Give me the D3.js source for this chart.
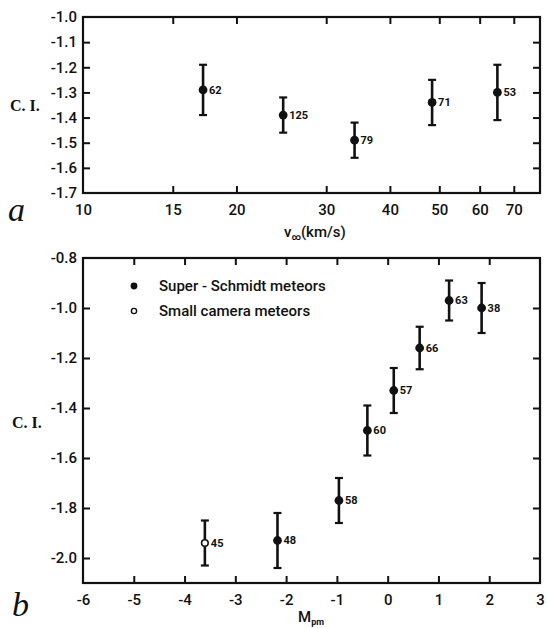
<!DOCTYPE html>
<html>
<head>
<meta charset="utf-8">
<script src="https://cdn.jsdelivr.net/npm/d3@7"></script>
<style>
  html, body { margin: 0; padding: 0; background: #fff; }
  svg { display: block; }
  text { font-family: Roboto, "DejaVu Sans", sans-serif; font-weight: 500; fill: #111; }
</style>
</head>
<body>
<script>
// Panel a: colour index versus velocity (log axis)
const velocity      = [17.2, 24.7, 34.1, 48.4, 65.0];
const ciVelocity    = [-1.29, -1.39, -1.49, -1.34, -1.30];
const errVelocity   = [0.10, 0.07, 0.07, 0.09, 0.11];
const nVelocity     = [62, 125, 79, 71, 53];
const velocityTicks = [10, 15, 20, 30, 40, 50, 60, 70];
const ciTicksA      = [-1.0, -1.1, -1.2, -1.3, -1.4, -1.5, -1.6, -1.7];

// Panel b: colour index versus photographic magnitude
const magnitude      = [-3.6, -2.17, -0.96, -0.40, 0.12, 0.63, 1.21, 1.85];
const ciMagnitude    = [-1.94, -1.93, -1.77, -1.49, -1.33, -1.16, -0.97, -1.00];
const errMagnitude   = [0.09, 0.11, 0.09, 0.10, 0.09, 0.085, 0.08, 0.10];
const nMagnitude     = [45, 48, 58, 60, 57, 66, 63, 38];
const camera         = ["small", "super", "super", "super", "super", "super", "super", "super"];
const magnitudeTicks = [-6, -5, -4, -3, -2, -1, 0, 1, 2, 3];
const ciTicksB       = [-0.8, -1.0, -1.2, -1.4, -1.6, -1.8, -2.0];
const legendItems    = [
  { key: "super", label: "Super - Schmidt meteors" },
  { key: "small", label: "Small camera meteors" }
];

const W = 548, H = 628;
const svg = d3.select("body").append("svg").attr("width", W).attr("height", H);

const TICK = 7;
const FONT = 15;
const fmt1 = d => d.toFixed(1);

function drawPanel(cfg) {
  const { x, y, xTicks, yTicks, xFmt, yFmt } = cfg;
  const [x0, x1] = x.range();
  const [yb, yt] = y.range();
  const g = svg.append("g");

  // bottom axis with labels, inward ticks
  const bottom = g.append("g").attr("transform", `translate(0,${yb})`)
    .call(d3.axisBottom(x).tickValues(xTicks).tickFormat(xFmt)
      .tickSizeInner(-TICK).tickSizeOuter(0).tickPadding(11));
  // top axis, ticks only
  const top = g.append("g").attr("transform", `translate(0,${yt})`)
    .call(d3.axisTop(x).tickValues(xTicks).tickFormat("")
      .tickSizeInner(-TICK).tickSizeOuter(0));
  // left axis with labels
  const left = g.append("g").attr("transform", `translate(${x0},0)`)
    .call(d3.axisLeft(y).tickValues(yTicks).tickFormat(yFmt)
      .tickSizeInner(-TICK).tickSizeOuter(0).tickPadding(6));
  // right axis, ticks only
  const right = g.append("g").attr("transform", `translate(${x1},0)`)
    .call(d3.axisRight(y).tickValues(yTicks).tickFormat("")
      .tickSizeInner(-TICK).tickSizeOuter(0));

  [bottom, top, left, right].forEach(a => {
    a.select(".domain").remove();
    a.selectAll("line").attr("stroke", "#111").attr("stroke-width", 2);
    a.selectAll("text").attr("font-size", FONT).attr("fill", "#111")
      .style("font-family", "Roboto, DejaVu Sans, sans-serif").style("font-weight", 500);
  });
  bottom.selectAll("text").attr("dy", "0.71em");

  // frame
  g.append("rect")
    .attr("x", x0).attr("y", yt).attr("width", x1 - x0).attr("height", yb - yt)
    .attr("fill", "none").attr("stroke", "#111").attr("stroke-width", 2.2);
  return g;
}

function drawPoints(g, x, y, xs, ys, errs, counts, kinds) {
  const data = xs.map((v, i) => ({ x: v, y: ys[i], e: errs[i], n: counts[i], k: kinds ? kinds[i] : "super" }));
  const pts = g.append("g").selectAll("g").data(data).join("g");
  const cap = 4;
  pts.append("line")
    .attr("x1", d => x(d.x)).attr("x2", d => x(d.x))
    .attr("y1", d => y(d.y + d.e)).attr("y2", d => y(d.y - d.e))
    .attr("stroke", "#111").attr("stroke-width", 2.6);
  pts.append("line")
    .attr("x1", d => x(d.x) - cap).attr("x2", d => x(d.x) + cap)
    .attr("y1", d => y(d.y + d.e)).attr("y2", d => y(d.y + d.e))
    .attr("stroke", "#111").attr("stroke-width", 2.2);
  pts.append("line")
    .attr("x1", d => x(d.x) - cap).attr("x2", d => x(d.x) + cap)
    .attr("y1", d => y(d.y - d.e)).attr("y2", d => y(d.y - d.e))
    .attr("stroke", "#111").attr("stroke-width", 2.2);
  pts.append("circle")
    .attr("cx", d => x(d.x)).attr("cy", d => y(d.y))
    .attr("r", d => d.k === "small" ? 3.3 : 4.4)
    .attr("fill", d => d.k === "small" ? "#fff" : "#111")
    .attr("stroke", "#111").attr("stroke-width", d => d.k === "small" ? 1.6 : 0);
  pts.append("text")
    .attr("x", d => x(d.x) + 6).attr("y", d => y(d.y))
    .attr("dy", "0.36em")
    .attr("font-size", 11).style("font-weight", "bold")
    .text(d => d.n);
}

// ---------- Panel a ----------
const xA = d3.scaleLog().domain([10, 78.8]).range([83, 540]);
const yA = d3.scaleLinear().domain([-1.7, -1.0]).range([193, 17]);
const gA = drawPanel({ x: xA, y: yA, xTicks: velocityTicks, yTicks: ciTicksA,
  xFmt: d => String(d), yFmt: fmt1 });
// tick marks that would sit on the frame corners are dropped
gA.selectAll(".tick").filter(d => d === 10 || d === -1.0 || d === -1.7).select("line").remove();
drawPoints(gA, xA, yA, velocity, ciVelocity, errVelocity, nVelocity, null);

gA.append("text").attr("x", 10).attr("y", 111).attr("font-size", 16)
  .style("font-family", "Liberation Serif, serif").style("font-weight", "bold").text("C. I.");
const vLabel = gA.append("text").attr("x", 284).attr("y", 237).attr("font-size", FONT);
vLabel.append("tspan").text("v");
vLabel.append("tspan").attr("font-size", 9).style("font-weight", "bold").attr("dy", 3).text("∞");
vLabel.append("tspan").attr("dy", -3).text("(km/s)");
gA.append("text").attr("x", 8).attr("y", 221)
  .style("font-family", "Liberation Serif, serif").attr("font-style", "italic")
  .style("font-weight", "normal").attr("font-size", 34).text("a");

// ---------- Panel b ----------
const xB = d3.scaleLinear().domain([-6, 3]).range([83, 540]);
const yB = d3.scaleLinear().domain([-2.1, -0.8]).range([583, 258]);
const gB = drawPanel({ x: xB, y: yB, xTicks: magnitudeTicks, yTicks: ciTicksB,
  xFmt: d => String(d), yFmt: fmt1 });
gB.selectAll(".tick").filter(d => d === -6 || d === 3 || d === -0.8).select("line").remove();
drawPoints(gB, xB, yB, magnitude, ciMagnitude, errMagnitude, nMagnitude, camera);

// legend
const leg = gB.append("g").selectAll("g").data(legendItems).join("g")
  .attr("transform", (d, i) => `translate(134,${286 + i * 25})`);
leg.append("circle").attr("r", d => d.key === "small" ? 2.6 : 3.4)
  .attr("fill", d => d.key === "small" ? "#fff" : "#111")
  .attr("stroke", "#111").attr("stroke-width", d => d.key === "small" ? 1.4 : 0);
leg.append("text").attr("x", 25).attr("dy", "0.36em").attr("font-size", FONT).text(d => d.label);

gB.append("text").attr("x", 12).attr("y", 428).attr("font-size", 16)
  .style("font-family", "Liberation Serif, serif").style("font-weight", "bold").text("C. I.");
const mLabel = gB.append("text").attr("x", 298).attr("y", 622).attr("font-size", FONT);
mLabel.append("tspan").text("M");
mLabel.append("tspan").attr("font-size", 9).style("font-weight", "bold").attr("dy", 3).text("pm");
gB.append("text").attr("x", 12).attr("y", 616)
  .style("font-family", "Liberation Serif, serif").attr("font-style", "italic")
  .style("font-weight", "normal").attr("font-size", 34).text("b");
</script>
</body>
</html>
